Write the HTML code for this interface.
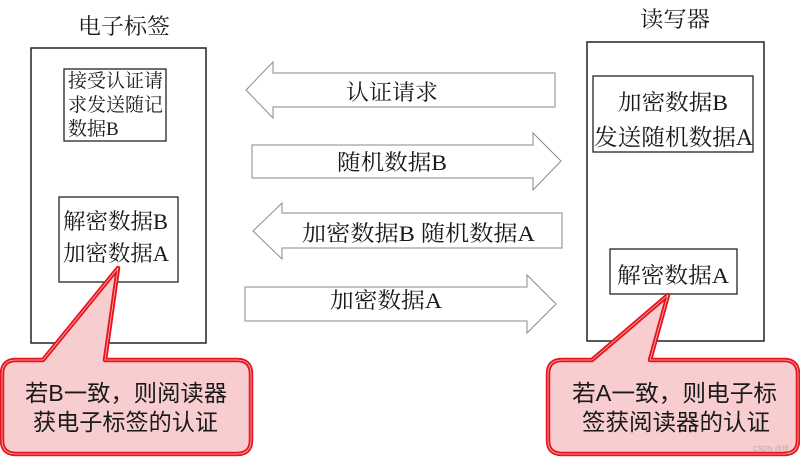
<!DOCTYPE html>
<html><head><meta charset="utf-8"><style>
html,body{margin:0;padding:0;background:#fff;}
svg{display:block;}
.s{font-family:"Liberation Serif","Noto Serif CJK SC","Noto Sans CJK SC",serif;fill:#1a1a1a;}
.ss{font-family:"Liberation Sans","Noto Sans CJK SC",sans-serif;fill:#1a1a1a;}
</style></head><body>
<svg width="800" height="457" viewBox="0 0 800 457" xmlns="http://www.w3.org/2000/svg">
<rect width="800" height="457" fill="#fff"/>
<!-- titles -->
<text class="s" x="78" y="34" font-size="22" textLength="92" lengthAdjust="spacingAndGlyphs">电子标签</text>
<text class="s" x="640" y="27" font-size="22" textLength="70" lengthAdjust="spacingAndGlyphs">读写器</text>
<!-- left box -->
<rect x="31" y="48" width="175" height="295" fill="#fff" stroke="#222" stroke-width="1.5"/>
<rect x="64" y="69" width="102" height="72" fill="#fff" stroke="#222" stroke-width="1.3"/>
<text class="s" x="68" y="87" font-size="19" textLength="95" lengthAdjust="spacingAndGlyphs">接受认证请</text>
<text class="s" x="68" y="111" font-size="19" textLength="95" lengthAdjust="spacingAndGlyphs">求发送随记</text>
<text class="s" x="68" y="135" font-size="19">数据B</text>
<rect x="59" y="197" width="119" height="85" fill="#fff" stroke="#222" stroke-width="1.3"/>
<text class="s" x="63" y="229" font-size="22" textLength="105" lengthAdjust="spacingAndGlyphs">解密数据B</text>
<text class="s" x="63" y="261" font-size="22" textLength="106" lengthAdjust="spacingAndGlyphs">加密数据A</text>
<!-- right box -->
<rect x="587" y="42" width="177" height="299" fill="#fff" stroke="#222" stroke-width="1.5"/>
<rect x="593" y="76" width="160" height="76" fill="#fff" stroke="#222" stroke-width="1.3"/>
<text class="s" x="618" y="110" font-size="22" textLength="110" lengthAdjust="spacingAndGlyphs">加密数据B</text>
<text class="s" x="594" y="145" font-size="23" textLength="159" lengthAdjust="spacingAndGlyphs">发送随机数据A</text>
<rect x="610" y="249" width="127" height="45" fill="#fff" stroke="#222" stroke-width="1.3"/>
<text class="s" x="617" y="283" font-size="22" textLength="112" lengthAdjust="spacingAndGlyphs">解密数据A</text>
<!-- arrows -->
<g fill="#fff" stroke="#8a8a8a" stroke-width="1">
<polygon points="246,90 273,62 273,73 555,73 555,107 273,107 273,118"/>
<polygon points="252,145 533,145 533,133 561,161 533,190 533,178 252,178"/>
<polygon points="253,231 282,203 282,213 562,213 562,248 282,248 282,259"/>
<polygon points="245,287 527,287 527,275 556,304 527,333 527,321 245,321"/>
</g>
<text class="s" x="346" y="100" font-size="22" textLength="92" lengthAdjust="spacingAndGlyphs">认证请求</text>
<text class="s" x="337" y="170" font-size="22" textLength="110" lengthAdjust="spacingAndGlyphs">随机数据B</text>
<text class="s" x="302" y="241" font-size="22" textLength="233" lengthAdjust="spacingAndGlyphs">加密数据B 随机数据A</text>
<text class="s" x="330" y="308" font-size="22" textLength="112" lengthAdjust="spacingAndGlyphs">加密数据A</text>
<!-- callouts -->
<path d="M16 360 L43 360 L118 268 L105 360 L237 360 Q251 360 251 374 L251 440 Q251 454 237 454 L16 454 Q2 454 2 440 L2 374 Q2 360 16 360 Z" fill="#f8cdd0" stroke="#e8141c" stroke-width="4.5" stroke-linejoin="round"/>
<path d="M16 360 L43 360 L118 268 L105 360 L237 360 Q251 360 251 374 L251 440 Q251 454 237 454 L16 454 Q2 454 2 440 L2 374 Q2 360 16 360 Z" fill="none" stroke="#f7b8bc" stroke-width="0.8" stroke-linejoin="round"/>
<path d="M562 360 L592 360 L668 295 L650 360 L784 360 Q798 360 798 374 L798 440 Q798 454 784 454 L562 454 Q548 454 548 440 L548 374 Q548 360 562 360 Z" fill="#f8cdd0" stroke="#e8141c" stroke-width="4.5" stroke-linejoin="round"/>
<path d="M562 360 L592 360 L668 295 L650 360 L784 360 Q798 360 798 374 L798 440 Q798 454 784 454 L562 454 Q548 454 548 440 L548 374 Q548 360 562 360 Z" fill="none" stroke="#f7b8bc" stroke-width="0.8" stroke-linejoin="round"/>
<text class="ss" x="25" y="401" font-size="23" textLength="202" lengthAdjust="spacingAndGlyphs">若B一致，则阅读器</text>
<text class="ss" x="33" y="430" font-size="23" textLength="185" lengthAdjust="spacingAndGlyphs">获电子标签的认证</text>
<text class="ss" x="572" y="401" font-size="23" textLength="205" lengthAdjust="spacingAndGlyphs">若A一致，则电子标</text>
<text class="ss" x="582" y="430" font-size="23" textLength="188" lengthAdjust="spacingAndGlyphs">签获阅读器的认证</text>
<text class="ss" x="753" y="451" font-size="7" style="fill:#b8a8aa">CSDN @坦_</text>
</svg>
</body></html>
